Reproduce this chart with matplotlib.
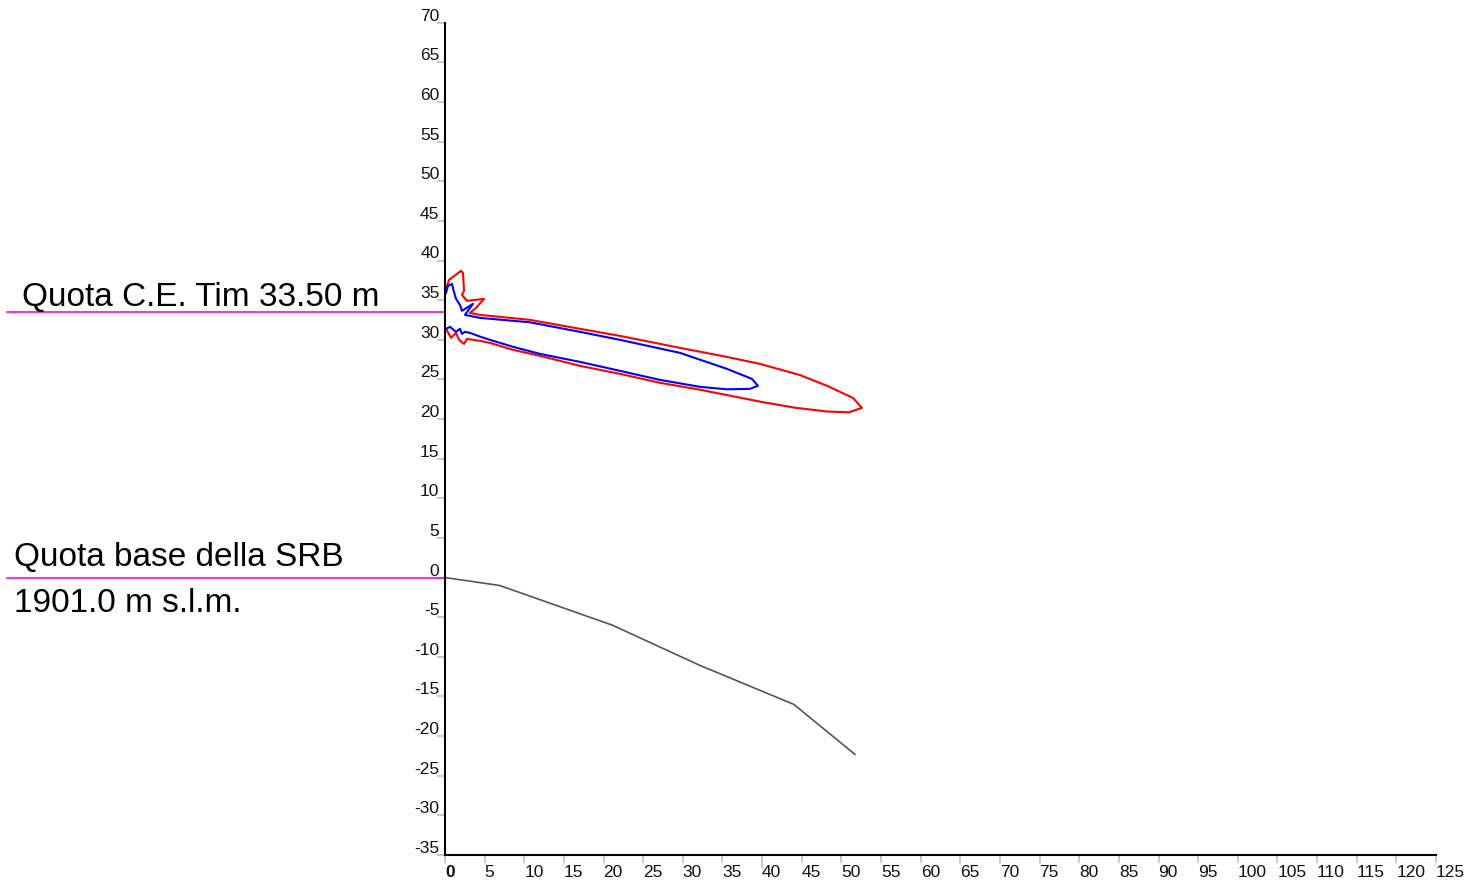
import matplotlib
matplotlib.use("Agg")
import matplotlib.pyplot as plt
import matplotlib.transforms as mtransforms

plt.rcParams['font.family'] = ['Liberation Sans', 'DejaVu Sans']

# lobe outer contour (red)
red_x = [0.13, 0.50, 2.02, 2.27, 2.40, 2.14, 2.77, 4.92, 3.91, 3.15, 4.41, 10.72, 17.02,
         22.07, 29.63, 35.0, 39.72, 44.77, 48.17, 51.45, 52.59, 50.95, 48.17, 44.0, 39.72, 32.16,
         27.11, 22.07, 17.02, 11.98, 8.58, 5.67, 4.41, 2.77, 2.40, 1.77, 1.39, 0.76, 0.13]
red_y = [36.42, 37.55, 38.69, 38.44, 36.17, 35.66, 34.91, 35.16, 34.02, 33.39, 33.14, 32.51, 31.38,
         30.49, 28.98, 27.95, 26.96, 25.55, 24.20, 22.67, 21.41, 20.85, 20.95, 21.45, 22.20, 23.70,
         24.57, 25.70, 26.71, 27.97, 28.73, 29.61, 29.86, 30.11, 29.48, 29.99, 30.87, 30.24, 31.38]

# lobe inner contour (blue)
blue_x = [0.13, 0.38, 0.88, 1.13, 1.39, 1.89, 2.14, 3.53, 2.52, 4.41, 10.72, 17.02, 22.07,
          29.63, 35.56, 38.71, 39.47, 38.46, 35.56, 32.16, 27.11, 22.07, 17.02, 11.98,
          8.58, 5.67, 4.41, 3.15, 2.52, 2.14, 1.89, 1.39, 0.63, 0.13]
blue_y = [35.92, 36.80, 37.05, 36.04, 35.16, 34.40, 33.65, 34.53, 33.14, 32.76, 32.20, 31.00, 29.99,
          28.35, 26.33, 25.07, 24.19, 23.81, 23.75, 24.06, 24.94, 26.08, 27.21, 28.22,
          29.11, 29.99, 30.40, 30.87, 31.00, 30.75, 31.38, 31.00, 31.63, 31.38]

# terrain profile
ground_x = [0, 6.9, 21.1, 32.2, 44.0, 51.7]
ground_y = [0, -1.0, -6.0, -11.1, -16.0, -22.3]

quota_ce = 33.50
quota_base = 0
label_ce = "Quota C.E. Tim 33.50 m"
label_base = ["Quota base della SRB", "1901.0 m s.l.m."]

x_ticks = list(range(0, 126, 5))
y_ticks = list(range(-35, 71, 5))

W, H = 1464, 887
fig = plt.figure(figsize=(W / 100, H / 100), dpi=100)
ax = fig.add_axes([445 / W, (H - 856) / H, (1436 - 445) / W, (856 - 23.7) / H])
ax.set_xlim(0, 125)
ax.set_ylim(-35, 70)

ax.plot(red_x, red_y, color='#ff0000', lw=1.5)
ax.plot(blue_x, blue_y, color='#0000ff', lw=1.5)
ax.plot(ground_x, ground_y, color='#555555', lw=1.2)

# magenta reference lines running left of the axis
trans = mtransforms.blended_transform_factory(fig.transFigure, ax.transData)
for q in [quota_ce, quota_base]:
    ax.plot([7 / W, 445 / W], [q, q], color='#ff00ff', lw=1.2, transform=trans, clip_on=False)

fig.text(22 / W, 1 - 306 / H, label_ce, fontsize=24, va='baseline', ha='left')
fig.text(14 / W, 1 - 566 / H, label_base[0], fontsize=24, va='baseline', ha='left')
fig.text(14 / W, 1 - 612 / H, label_base[1], fontsize=24, va='baseline', ha='left')

for side in ['top', 'right']:
    ax.spines[side].set_visible(False)
for side in ['left', 'bottom']:
    ax.spines[side].set_color('black')
    ax.spines[side].set_linewidth(1.5)

ax.set_xticks(x_ticks)
ax.set_xticklabels([str(v) for v in x_ticks])
ax.set_yticks(y_ticks)
ax.set_yticklabels([str(v) for v in y_ticks])
ax.tick_params(axis='both', colors='#c0c0c0', length=6, width=1.2, labelsize=12.5,
               labelcolor='#111111')
ax.tick_params(axis='y', pad=-2)
ax.tick_params(axis='x', pad=0.5)
for lab in ax.get_yticklabels():
    lab.set_va('bottom')
for lab in ax.get_xticklabels():
    lab.set_ha('left')
ax.get_xticklabels()[0].set_fontweight('bold')
ax.xaxis.get_major_ticks()[8].tick1line.set_color('black')
ax.xaxis.get_major_ticks()[8].tick1line.set_markersize(9)

fig.savefig('out.png', dpi=100)
